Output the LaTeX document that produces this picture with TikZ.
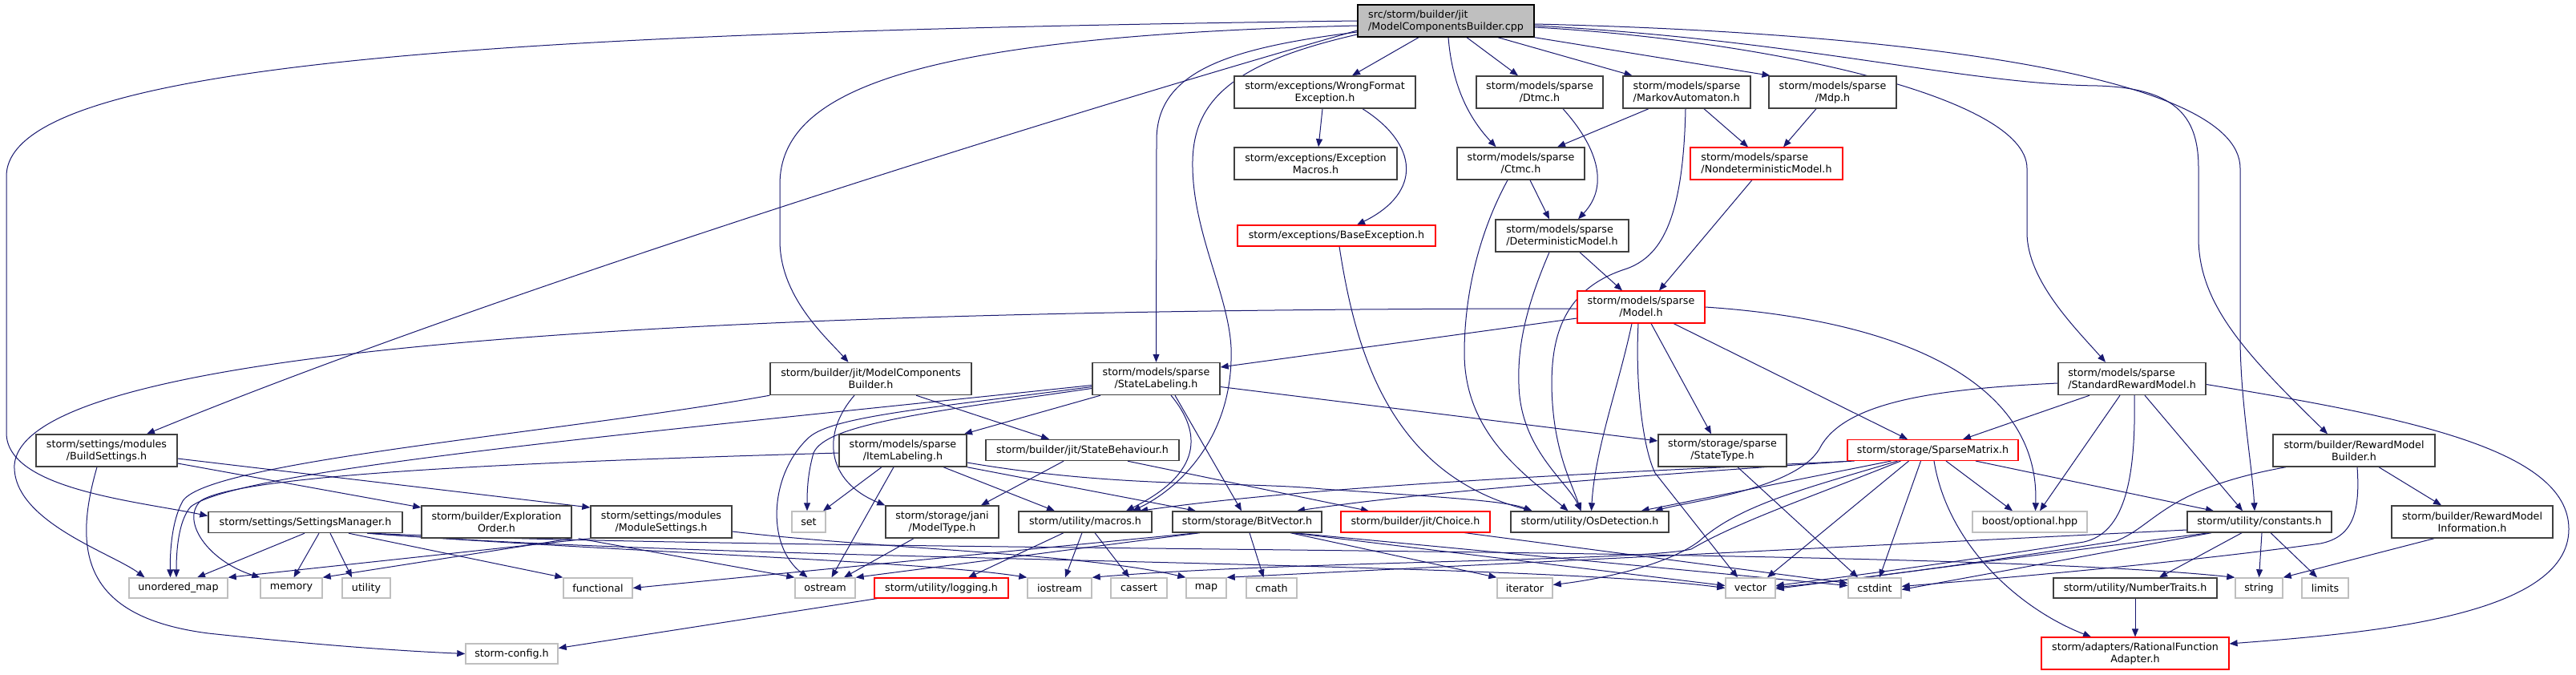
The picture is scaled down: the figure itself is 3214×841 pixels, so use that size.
\documentclass[tikz,border=0pt]{standalone}
\usepackage{fontspec}
\newfontfamily\dxf{DejaVu Sans}
\usetikzlibrary{arrows.meta,calc}
\definecolor{edgec}{HTML}{191970}
\definecolor{gA}{HTML}{404040}
\definecolor{gB}{HTML}{BFBFBF}
\definecolor{rd}{HTML}{FF0000}
\pgfdeclarelayer{bg}
\pgfsetlayers{bg,main}
\newcommand\dxnode[6]{\node[#1, minimum width=#4pt, minimum height=#5pt] (#2) at (#3) {#6};}
\begin{document}
\begin{tikzpicture}[x=1pt,y=-1pt,
 nd/.style={draw=gA, line width=1.4pt, fill=white, inner sep=0pt, align=center, text=black, font=\dxf\fontsize{12.7}{15}\selectfont},
 sys/.style={nd, draw=gB},
 trunc/.style={nd, draw=rd, line width=1.1pt},
 mainnd/.style={nd, fill=gB, draw=black},
 lft/.style={align=left},
 e/.style={draw=edgec, line width=1pt, -{Triangle[length=10pt,width=8pt]}}]
\useasboundingbox (0,0) rectangle (3214,841);
\begin{pgfonlayer}{bg}\fill[white] (0,0) rectangle (3214,841);\end{pgfonlayer}
% nodes
\dxnode{mainnd,lft}{main}{1804,26}{220}{40}{src/storm/builder/jit\\/ModelComponentsBuilder.cpp}
\dxnode{nd}{wfe}{1653,115}{226}{40}{storm/exceptions/WrongFormat\\Exception.h}
\dxnode{nd}{exm}{1641.5,204}{203}{40}{storm/exceptions/Exception\\Macros.h}
\dxnode{trunc}{bex}{1667.5,294}{247}{26}{storm/exceptions/BaseException.h}
\dxnode{nd}{dtmc}{1921,115}{158}{40}{storm/models/sparse\\/Dtmc.h}
\dxnode{nd,lft}{ma}{2104.5,115}{159}{40}{storm/models/sparse\\/MarkovAutomaton.h}
\dxnode{nd}{mdp}{2286.5,115}{159}{40}{storm/models/sparse\\/Mdp.h}
\dxnode{nd}{ctmc}{1897.5,204}{159}{40}{storm/models/sparse\\/Ctmc.h}
\dxnode{trunc,lft}{ndm}{2204,204}{190}{40}{storm/models/sparse\\/NondeterministicModel.h}
\dxnode{nd,lft}{dm}{1949,294}{166}{40}{storm/models/sparse\\/DeterministicModel.h}
\dxnode{trunc}{model}{2047.5,383}{159}{40}{storm/models/sparse\\/Model.h}
\dxnode{nd}{mcb}{1086.5,472.5}{251}{40}{storm/builder/jit/ModelComponents\\Builder.h}
\dxnode{nd}{sl}{1442.5,472.5}{159}{40}{storm/models/sparse\\/StateLabeling.h}
\dxnode{nd,lft}{srm}{2660,472.5}{184}{40}{storm/models/sparse\\/StandardRewardModel.h}
\dxnode{nd}{bs}{133,562}{176}{40}{storm/settings/modules\\/BuildSettings.h}
\dxnode{nd}{il}{1126.5,562}{159}{40}{storm/models/sparse\\/ItemLabeling.h}
\dxnode{nd}{sb}{1350.5,561.5}{241}{26}{storm/builder/jit/StateBehaviour.h}
\dxnode{nd}{st}{2149,562}{160}{40}{storm/storage/sparse\\/StateType.h}
\dxnode{trunc}{sm}{2411.5,561.5}{213}{26}{storm/storage/SparseMatrix.h}
\dxnode{nd}{rmb}{2937,562}{202}{40}{storm/builder/RewardModel\\Builder.h}
\dxnode{nd}{smgr}{381,651.5}{242}{26}{storm/settings/SettingsManager.h}
\dxnode{nd}{eo}{619.5,651}{187}{40}{storm/builder/Exploration\\Order.h}
\dxnode{nd}{mods}{825,651}{176}{40}{storm/settings/modules\\/ModuleSettings.h}
\dxnode{sys}{nset}{1009,651}{42}{26}{set}
\dxnode{nd}{mt}{1175.5,651}{141}{40}{storm/storage/jani\\/ModelType.h}
\dxnode{nd}{mac}{1354,651}{166}{26}{storm/utility/macros.h}
\dxnode{nd}{bv}{1556,651}{186}{26}{storm/storage/BitVector.h}
\dxnode{trunc}{ch}{1766,651}{186}{26}{storm/builder/jit/Choice.h}
\dxnode{nd}{osd}{1983.5,651}{197}{26}{storm/utility/OsDetection.h}
\dxnode{sys}{opt}{2532.5,651}{143}{26}{boost/optional.hpp}
\dxnode{nd}{cst}{2819,651}{180}{26}{storm/utility/constants.h}
\dxnode{nd}{rmi}{3084.5,651}{201}{40}{storm/builder/RewardModel\\Information.h}
\dxnode{sys}{um}{222.5,733.5}{123}{25}{unordered\_map}
\dxnode{sys}{mem}{363.5,733.5}{77}{25}{memory}
\dxnode{sys}{uti}{457,733.5}{60}{25}{utility}
\dxnode{sys}{fun}{746,733.5}{86}{25}{functional}
\dxnode{sys}{ost}{1029.5,733.5}{75}{25}{ostream}
\dxnode{trunc}{lg}{1174.5,733.5}{167}{25}{storm/utility/logging.h}
\dxnode{sys}{ios}{1322,733.5}{80}{25}{iostream}
\dxnode{sys}{cas}{1421,733.5}{70}{25}{cassert}
\dxnode{sys}{nmap}{1505,733.5}{50}{25}{map}
\dxnode{sys}{cmath}{1586.5,733.5}{63}{25}{cmath}
\dxnode{sys}{itr}{1902.5,733.5}{69}{25}{iterator}
\dxnode{sys}{vec}{2184,733.5}{62}{25}{vector}
\dxnode{sys}{cint}{2339,733.5}{66}{25}{cstdint}
\dxnode{nd}{nt}{2664,733.5}{204}{25}{storm/utility/NumberTraits.h}
\dxnode{sys}{str}{2818.5,733.5}{59}{25}{string}
\dxnode{sys}{lim}{2901,733.5}{58}{25}{limits}
\dxnode{sys}{cfg}{638.5,815.5}{115}{25}{storm-config.h}
\dxnode{trunc}{rfa}{2664,815}{234}{40}{storm/adapters/RationalFunction\\Adapter.h}
% edges
\begin{pgfonlayer}{bg}
% main
\draw[e] ([yshift=-12pt]main.west) .. controls (1300,150) and (600,370) .. ([xshift=50pt]bs.north);
\draw[e] (main.west) .. controls (600,40) and (8,80) .. (8,220) -- (8,540) .. controls (8,610) and (170,625) .. ([yshift=8pt]smgr.west);
\draw[e] ([yshift=-6pt]main.west) .. controls (1150,45) and (973,110) .. (973,230) -- (973,300) .. controls (973,370) and (1030,420) .. ([xshift=-28pt]mcb.north);
\draw[e] ([yshift=-14pt]main.west) .. controls (1530,60) and (1443,90) .. (1443,175) -- (sl.north);
\draw[e] ([yshift=-17pt]main.west) .. controls (1530,80) and (1486,130) .. (1488,210) .. controls (1490,300) and (1540,380) .. (1536,450) .. controls (1533,550) and (1470,610) .. ([xshift=59pt]mac.north);
\draw[e] ([xshift=-34pt]main.south) -- ([xshift=34pt]wfe.north);
\draw[e] ([xshift=3pt]main.south) .. controls (1812,110) and (1835,150) .. ([xshift=-31pt]ctmc.north);
\draw[e] ([xshift=26pt]main.south) -- ([xshift=-27pt]dtmc.north);
\draw[e] ([xshift=65pt]main.south) -- ([xshift=-68pt]ma.north);
\draw[e] (main.south east) -- ([xshift=-78pt]mdp.north);
\draw[e] ([yshift=-8pt]main.east) .. controls (2200,50) and (2529,120) .. (2529,210) -- (2529,290) .. controls (2529,350) and (2590,410) .. ([xshift=-33pt]srm.north);
\draw[e] ([yshift=-6pt]main.east) .. controls (2250,50) and (2450,105) .. (2617,107) .. controls (2720,110) and (2743,150) .. (2743,210) -- (2743,300) .. controls (2745,380) and (2800,440) .. ([xshift=-33pt]rmb.north);
\draw[e] ([yshift=-4pt]main.east) .. controls (2350,40) and (2795,90) .. (2795,210) -- (2795,420) .. controls (2795,500) and (2810,580) .. ([xshift=-6pt]cst.north);
% exceptions
\draw[e] ([xshift=-3pt]wfe.south) -- ([xshift=3.5pt]exm.north);
\draw[e] ([xshift=47pt]wfe.south) .. controls (1770,180) and (1775,240) .. ([xshift=25.5pt]bex.north);
\draw[e] ([xshift=3.5pt]bex.south) .. controls (1690,430) and (1730,590) .. ([xshift=-72pt]osd.north);
% models
\draw[e] ([xshift=29pt]dtmc.south) .. controls (1990,180) and (2010,230) .. ([xshift=20pt]dm.north);
\draw[e] ([xshift=-47.5pt]ma.south) -- ([xshift=45.5pt]ctmc.north);
\draw[e] ([xshift=21.5pt]ma.south) -- ([xshift=-23pt]ndm.north);
\draw[e] ([xshift=-1.5pt]ma.south) .. controls (2100,280) and (2070,320) .. (2030,335) .. controls (1950,360) and (1936,420) .. (1936,480) .. controls (1937,560) and (1960,600) .. ([xshift=-11pt]osd.north);
\draw[e] ([xshift=-20.5pt]mdp.south) -- ([xshift=21pt]ndm.north);
\draw[e] ([xshift=11.5pt]ctmc.south) -- ([xshift=-16pt]dm.north);
\draw[e] ([xshift=-16.5pt]ctmc.south) .. controls (1840,300) and (1827,380) .. (1827,440) .. controls (1827,540) and (1900,590) .. ([xshift=-27pt]osd.north);
\draw[e] ([xshift=-18pt]ndm.south) -- ([xshift=22.5pt]model.north);
\draw[e] ([xshift=22pt]dm.south) -- ([xshift=-23.5pt]model.north);
\draw[e] ([xshift=-16pt]dm.south) .. controls (1905,380) and (1893,430) .. (1895,480) .. controls (1897,560) and (1955,600) .. ([xshift=-11pt]osd.north);
% Model.h
\draw[e] ([yshift=-2pt]model.west) .. controls (1000,385) and (30,420) .. (18,580) .. controls (15,650) and (140,690) .. ([xshift=-42pt]um.north);
\draw[e] ([yshift=-14pt]model.west) -- ([yshift=14.5pt]sl.east);
\draw[e] ([xshift=-11.5pt]model.south) .. controls (2020,480) and (1990,560) .. ([xshift=2pt]osd.north);
\draw[e] ([xshift=-3.5pt]model.south) .. controls (2040,480) and (2050,560) .. (2065,590) -- ([xshift=-16pt]vec.north);
\draw[e] ([xshift=12.5pt]model.south) -- ([xshift=-14pt]st.north);
\draw[e] ([xshift=40.5pt]model.south) -- ([xshift=-31.5pt]sm.north);
\draw[e] (model.east) .. controls (2380,400) and (2545,480) .. ([xshift=7pt]opt.north);
% StateLabeling
\draw[e] ([yshift=-8pt]sl.west) .. controls (800,540) and (300,585) .. (238,632) .. controls (222,650) and (220,690) .. ([xshift=-2.5pt]um.north);
\draw[e] ([yshift=-10pt]sl.west) .. controls (1150,510) and (1040,520) .. (1010,545) .. controls (960,590) and (955,680) .. ([xshift=-22pt]ost.north);
\draw[e] ([yshift=-12pt]sl.west) .. controls (1150,515) and (1030,530) .. (1015,565) .. controls (1008,590) and (1007,610) .. ([xshift=-2pt]nset.north);
\draw[e] ([xshift=-69.5pt]sl.south) -- ([xshift=76.5pt]il.north);
\draw[e] ([xshift=18.5pt]sl.south) .. controls (1500,540) and (1500,590) .. ([xshift=51pt]mac.north);
\draw[e] ([xshift=23.5pt]sl.south) -- ([xshift=-7pt]bv.north);
\draw[e] ([yshift=-10pt]sl.east) -- ([yshift=12pt]st.west);
% ModelComponentsBuilder
\draw[e] (mcb.south west) .. controls (700,540) and (260,575) .. (228,625) .. controls (214,650) and (212,690) .. ([xshift=-10pt]um.north);
\draw[e] ([xshift=-20.5pt]mcb.south) .. controls (1025,540) and (1030,600) .. (mt.north west);
\draw[e] ([xshift=56.5pt]mcb.south) -- ([xshift=-41.5pt]sb.north);
% ItemLabeling
\draw[e] ([yshift=-3pt]il.west) .. controls (700,575) and (300,590) .. (250,625) .. controls (225,650) and (260,700) .. (mem.north west);
\draw[e] ([xshift=-26.5pt]il.south) -- ([xshift=18pt]nset.north);
\draw[e] ([xshift=-11.5pt]il.south) -- ([xshift=8pt]ost.north);
\draw[e] ([xshift=50.5pt]il.south) -- ([xshift=-38pt]mac.north);
\draw[e] (il.south east) -- ([xshift=-64pt]bv.north);
\draw[e] ([yshift=-15pt]il.east) .. controls (1400,610) and (1550,600) .. (1650,610) .. controls (1800,620) and (1880,625) .. ([xshift=-72pt]osd.north);
% StateBehaviour, ModelType
\draw[e] ([xshift=-23.5pt]sb.south) -- ([xshift=48.5pt]mt.north);
\draw[e] ([xshift=56.5pt]sb.south) -- ([xshift=-58pt]ch.north);
\draw[e] ([xshift=-35.5pt]mt.south) -- ([xshift=23.5pt]ost.north);
% macros
\draw[e] ([xshift=-27pt]mac.south) -- ([xshift=33.5pt]lg.north);
\draw[e] ([xshift=-4pt]mac.south) -- ([xshift=7pt]ios.north);
\draw[e] ([xshift=12pt]mac.south) -- ([xshift=-12pt]cas.north);
% BitVector
\draw[e] ([xshift=-59pt]bv.south) -- (ost.north east);
\draw[e] ([xshift=-62pt]bv.south) -- (fun.east);
\draw[e] ([xshift=3pt]bv.south) -- ([xshift=-10pt]cmath.north);
\draw[e] ([xshift=54pt]bv.south) -- (itr.north west);
\draw[e] ([xshift=56pt]bv.south) -- ([yshift=3pt]vec.west);
\draw[e] ([xshift=58pt]bv.south) -- ([yshift=3pt]cint.west);
% Choice, StateType
\draw[e] ([xshift=61pt]ch.south) -- ([yshift=6pt]cint.west);
\draw[e] ([xshift=19pt]st.south) -- ([xshift=-21pt]cint.north);
% SparseMatrix
\draw[e] ([xshift=-102pt]sm.south) .. controls (2100,590) and (1800,610) .. ([xshift=62pt]bv.north);
\draw[e] ([xshift=-98pt]sm.south) .. controls (2000,590) and (1650,605) .. ([xshift=68pt]mac.north);
\draw[e] ([xshift=-52pt]sm.south) -- ([xshift=64pt]osd.north);
\draw[e] ([xshift=-44pt]sm.south) .. controls (2250,610) and (2170,630) .. (2120,675) .. controls (2080,705) and (2000,722) .. ([yshift=4pt]itr.east);
\draw[e] ([xshift=-40pt]sm.south) .. controls (2260,620) and (2170,650) .. (2110,685) .. controls (2050,700) and (1600,700) .. (ios.north east);
\draw[e] ([xshift=-30pt]sm.south) -- ([xshift=21pt]vec.north);
\draw[e] ([xshift=-15pt]sm.south) -- ([xshift=6pt]cint.north);
\draw[e] ([xshift=16.5pt]sm.south) -- ([xshift=-21.5pt]opt.north);
\draw[e] ([xshift=53.5pt]sm.south) -- ([xshift=-57pt]cst.north);
\draw[e] ([xshift=1.5pt]sm.south) .. controls (2430,680) and (2520,760) .. ([xshift=-55pt]rfa.north);
% StandardRewardModel
\draw[e] ([xshift=-53pt]srm.south) -- ([xshift=37.5pt]sm.north);
\draw[e] ([xshift=-15pt]srm.south) -- ([xshift=12.5pt]opt.north);
\draw[e] ([yshift=-5.5pt]srm.west) .. controls (2420,485) and (2300,500) .. (2270,560) .. controls (2240,610) and (2110,625) .. ([xshift=81pt]osd.north);
\draw[e] ([xshift=16pt]srm.south) -- ([xshift=-21pt]cst.north);
\draw[e] ([xshift=3pt]srm.south) .. controls (2665,600) and (2650,665) .. (2600,676) .. controls (2450,700) and (2300,720) .. ([yshift=3pt]vec.east);
\draw[e] ([yshift=-7pt]srm.east) .. controls (3000,520) and (3205,560) .. (3205,660) .. controls (3205,770) and (2950,790) .. ([yshift=12pt]rfa.east);
% RewardModelBuilder
\draw[e] ([xshift=31pt]rmb.south) -- ([xshift=-38.5pt]rmi.north);
\draw[e] ([xshift=-85pt]rmb.south) .. controls (2700,610) and (2690,655) .. (2640,675) .. controls (2450,705) and (2300,725) .. ([yshift=1pt]vec.east);
\draw[e] ([xshift=4pt]rmb.south) .. controls (2945,640) and (2935,670) .. (2895,678) .. controls (2700,705) and (2450,725) .. ([yshift=2pt]cint.east);
\draw[e] ([xshift=-47.5pt]rmi.south) -- (str.north east);
% constants
\draw[e] ([xshift=-22pt]cst.south) -- ([xshift=30pt]nt.north);
\draw[e] ([xshift=3pt]cst.south) -- (str.north);
\draw[e] ([xshift=14pt]cst.south) -- ([xshift=-10pt]lim.north);
\draw[e] ([yshift=-10pt]cst.west) -- (nmap.north east);
\draw[e] ([xshift=-63pt]cst.south) -- ([yshift=-1pt]vec.east);
\draw[e] ([xshift=-60pt]cst.south) -- ([yshift=-2pt]cint.east);
\draw[e] (nt.south) -- (rfa.north);
% SettingsManager
\draw[e] ([xshift=-1pt]smgr.south) -- ([xshift=23.5pt]um.north);
\draw[e] ([xshift=17pt]smgr.south) -- ([xshift=3pt]mem.north);
\draw[e] ([xshift=31pt]smgr.south) -- ([xshift=-18pt]uti.north);
\draw[e] ([xshift=54pt]smgr.south) -- (fun.north west);
\draw[e] ([xshift=77pt]smgr.south) .. controls (800,690) and (1150,700) .. (ios.north west);
\draw[e] ([xshift=80pt]smgr.south) .. controls (900,700) and (1900,700) .. (vec.west);
\draw[e] ([xshift=83pt]smgr.south) .. controls (1000,690) and (2400,680) .. (str.north west);
% ModuleSettings, ExplorationOrder
\draw[e] (mods.south west) -- (um.north east);
\draw[e] (eo.south east) -- (mem.north east);
\draw[e] ([xshift=8pt]eo.south east) -- (ost.north west);
\draw[e] ([yshift=-12pt]mods.east) .. controls (1100,685) and (1350,690) .. (nmap.north west);
% BuildSettings
\draw[e] ([yshift=-16pt]bs.east) -- ([yshift=18pt]eo.west);
\draw[e] ([yshift=-10pt]bs.east) -- ([yshift=18pt]mods.west);
\draw[e] ([xshift=-12pt]bs.south) .. controls (90,690) and (105,770) .. (260,790) .. controls (400,805) and (500,812) .. (cfg.west);
\draw[e] ([xshift=-80pt]lg.south) -- ([yshift=7pt]cfg.east);
\end{pgfonlayer}
\end{tikzpicture}
\end{document}
